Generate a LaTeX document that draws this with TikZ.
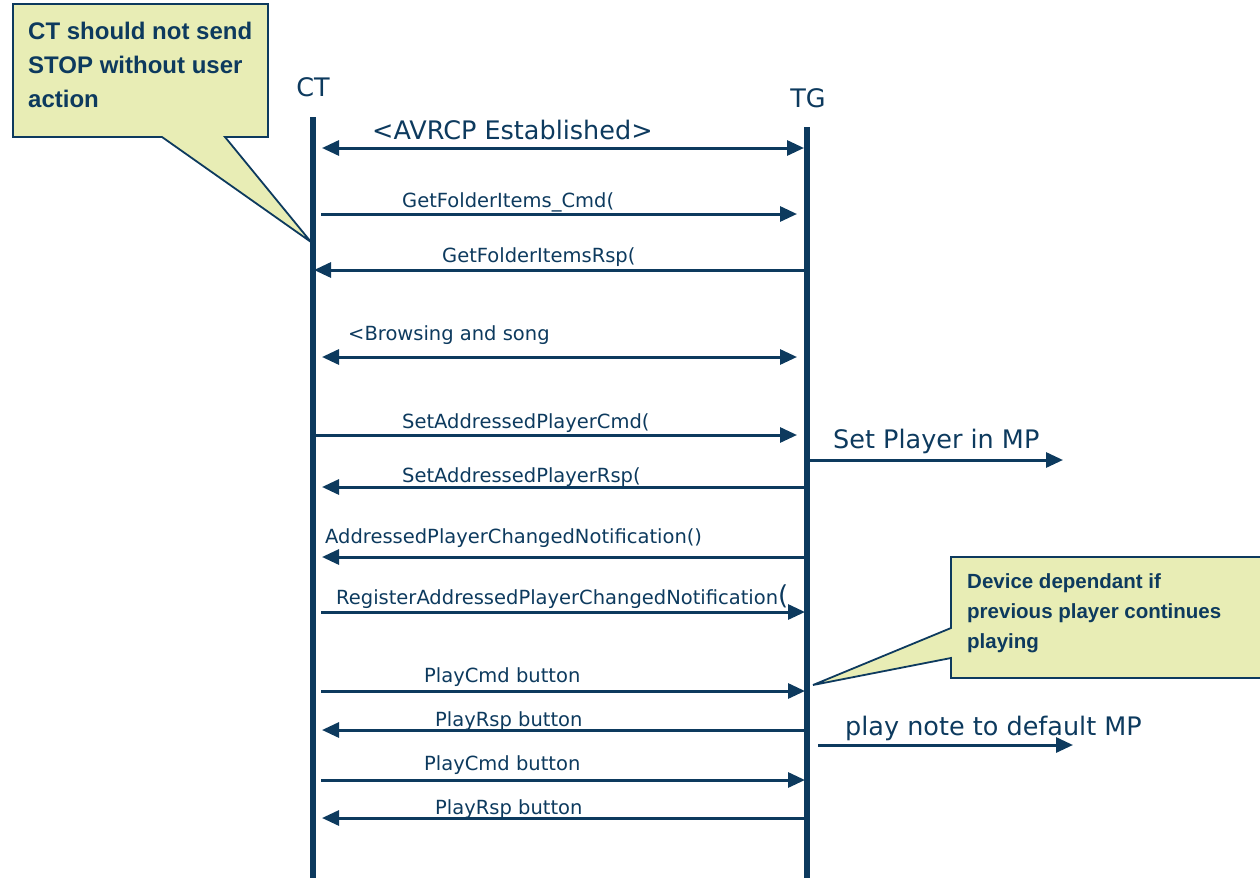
\documentclass[tikz,border=0pt]{standalone}
\usepackage{fontspec}
\setmainfont{DejaVu Sans}
\newfontfamily\notefont{Liberation Sans}
\usetikzlibrary{arrows.meta}
\definecolor{navy}{HTML}{0D3A5E}
\definecolor{notefill}{HTML}{E8EDB5}

\begin{document}
\begin{tikzpicture}[x=1pt,y=-1pt,
  lifeline/.style={draw=navy, line width=5.5pt},
  msg/.style={draw=navy, line width=3pt, -{Triangle[length=17pt,width=15pt]}},
  both/.style={msg, {Triangle[length=17pt,width=15pt]}-{Triangle[length=17pt,width=15pt]}},
  lab/.style={text=navy, font=\fontsize{19.5}{22}\selectfont, inner sep=0pt, anchor=base west},
  biglab/.style={lab, font=\fontsize{25.5}{28}\selectfont},
  note/.style={draw=navy, fill=notefill, line width=1.8pt, line join=miter},
  notetext/.style={text=navy, inner sep=0pt, anchor=base west, align=left}
]
\useasboundingbox (0,0) rectangle (1260,878);

% callouts
\draw[note] (13,4) -- (268,4) -- (268,137) -- (225,137) -- (311,242) -- (162,137) -- (13,137) -- cycle;
\node[notetext, font=\notefont\bfseries\fontsize{24}{34}\selectfont] (stopnote) at (28,107)
  {CT should not send\\STOP without user\\action};
\draw[note] (951,557) -- (1266,557) -- (1266,678) -- (951,678) -- (951,658) -- (813,685) -- (951,628) -- cycle;
\node[notetext, font=\notefont\bfseries\fontsize{20.5}{30}\selectfont] (devnote) at (967,648)
  {Device dependant if\\previous player continues\\playing};

% lifelines
\coordinate (ct top) at (313,117);
\coordinate (ct bot) at (313,878);
\coordinate (tg top) at (807,127);
\coordinate (tg bot) at (807,878);
\draw[lifeline] (ct top) -- (ct bot);
\draw[lifeline] (tg top) -- (tg bot);
\node[biglab, anchor=base] (ct) at (313,96) {CT};
\node[biglab, anchor=base] (tg) at (808,107) {TG};

% messages
\foreach \n/\sty/\lsty/\y/\xa/\xb/\lx/\ly/\txt in {
  1/both/biglab/148/322/804/372/139/{<AVRCP Established>},
  2/msg/lab/214/321/797/402/207/{GetFolderItems\_Cmd(},
  3/msg/lab/270/805/314/442/262/{GetFolderItemsRsp(},
  4/both/lab/357/322/797/348/340/{<Browsing and song},
  5/msg/lab/435/313/797/402/428/{SetAddressedPlayerCmd(},
  6/msg/biglab/460/809/1063/833/448/{Set Player in MP},
  7/msg/lab/487/805/322/402/482/{SetAddressedPlayerRsp(},
  8/msg/lab/557/805/322/325/543/{AddressedPlayerChangedNotification()},
  9/msg/lab/612/321/805/336/604/{RegisterAddressedPlayerChangedNotification{\fontsize{26}{28}\selectfont(}},
  10/msg/lab/691/321/805/424/682/{PlayCmd button},
  11/msg/lab/730/805/322/435/726/{PlayRsp button},
  12/msg/biglab/745/818/1073/845/735/{play note to default MP},
  13/msg/lab/780/321/805/424/770/{PlayCmd button},
  14/msg/lab/818/805/322/435/814/{PlayRsp button}}{
  \coordinate (m\n a) at (\xa,\y);
  \coordinate (m\n b) at (\xb,\y);
  \draw[\sty] (m\n a) -- (m\n b);
  \node[\lsty] (l\n) at (\lx,\ly) {\txt};
}
\end{tikzpicture}
\end{document}
